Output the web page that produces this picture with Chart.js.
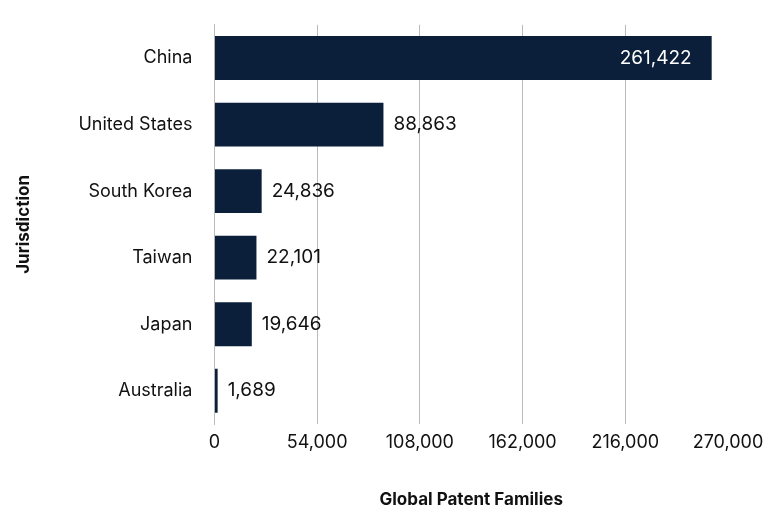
<!DOCTYPE html>
<html><head><meta charset="utf-8">
<script src="https://cdn.jsdelivr.net/npm/chart.js"></script>
<style>html,body{margin:0;background:#fff}</style>
</head><body><canvas id="c" width="780" height="520"></canvas>
<script>
const categories=["China","United States","South Korea","Taiwan","Japan","Australia"];
const values=[261422,88863,24836,22101,19646,1689];
const color="#0b1f3a";
const labelPlugin={id:"lbl",afterDatasetsDraw(ch){
  const ctx=ch.ctx,meta=ch.getDatasetMeta(0);
  ctx.save();ctx.font="19px Inter";ctx.textBaseline="middle";
  meta.data.forEach((b,i)=>{
    const t=values[i].toLocaleString("en-US");
    if(i===0){ctx.fillStyle="#fff";ctx.textAlign="right";ctx.fillText(t,b.x-20,b.y);}
    else{ctx.fillStyle="#111";ctx.textAlign="left";ctx.fillText(t,b.x+10,b.y);}
  });ctx.restore();}};
new Chart(document.getElementById("c"),{type:"bar",
 data:{labels:categories,datasets:[{data:values,backgroundColor:color,barPercentage:0.66,categoryPercentage:1}]},
 options:{indexAxis:"y",responsive:false,animation:false,devicePixelRatio:1,
  layout:{padding:{top:14,right:52,left:10,bottom:6}},
  plugins:{legend:{display:false},tooltip:{enabled:false}},
  scales:{
   x:{min:0,max:270000,ticks:{stepSize:50000,color:"#111",font:{family:"Inter",size:18},padding:8,callback:v=>v.toLocaleString("en-US")},
      grid:{color:c=>c.tick&&c.tick.value>250000?"rgba(0,0,0,0)":"#bbb",drawTicks:false},border:{display:false},
      title:{display:true,text:"Global Patent Families",color:"#111",font:{family:"Inter",size:17,weight:"bold"},padding:{top:28}}},
   y:{ticks:{color:"#111",font:{family:"Inter",size:18},padding:14},grid:{display:false},border:{color:"#bbb"},
      title:{display:true,text:"Jurisdiction",color:"#111",font:{family:"Inter",size:17,weight:"bold"},padding:{bottom:30}}}
  }},plugins:[labelPlugin]});
</script></body></html>
